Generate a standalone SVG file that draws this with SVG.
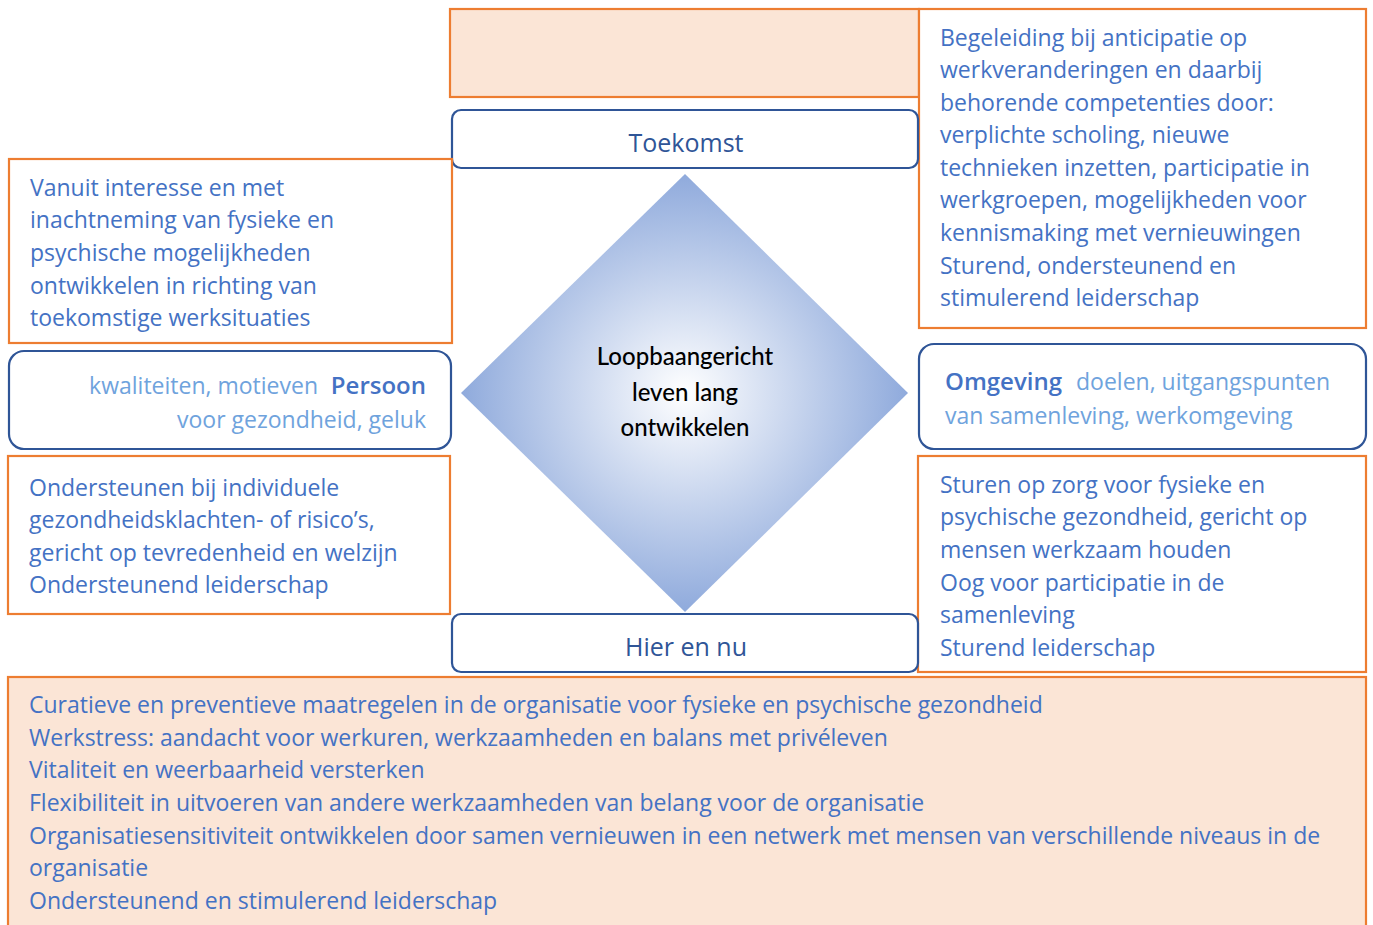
<svg xmlns="http://www.w3.org/2000/svg" width="1373" height="925" viewBox="0 0 1373 925">
<style>
.ob{fill:#fff;stroke:#ED7D31;stroke-width:2.2}
.pb{fill:#FBE5D6;stroke:#ED7D31;stroke-width:2.2}
.rb{fill:#fff;stroke:#2F5597;stroke-width:2.2}
.t{font-family:"Open Sans","Noto Sans",sans-serif;font-size:23px;fill:#4472C4}
.lt{font-family:"Open Sans","Noto Sans",sans-serif;font-size:23px;fill:#6FA3DD}
.h{font-family:"Open Sans","Noto Sans",sans-serif;font-size:25px;fill:#2F5597;text-anchor:middle}
.k{font-family:"Open Sans","Noto Sans",sans-serif;font-size:24px;fill:#4472C4;font-weight:600}
.d{font-family:Lato,"Open Sans",sans-serif;font-size:24px;fill:#000;text-anchor:middle;font-weight:500}
</style>
<defs>
<radialGradient id="dg" cx="0.5" cy="0.5" r="0.5">
<stop offset="0" stop-color="#FFFFFF"/>
<stop offset="1" stop-color="#8FAADC"/>
</radialGradient>
</defs>
<g id="bottom-box">
<rect class="pb" x="8" y="677" width="1358" height="260"/>
<text class="t" x="29"><tspan x="29" y="713">Curatieve en preventieve maatregelen in de organisatie voor fysieke en psychische gezondheid</tspan><tspan x="29" y="746">Werkstress: aandacht voor werkuren, werkzaamheden en balans met privéleven</tspan><tspan x="29" y="778">Vitaliteit en weerbaarheid versterken</tspan><tspan x="29" y="811">Flexibiliteit in uitvoeren van andere werkzaamheden van belang voor de organisatie</tspan><tspan x="29" y="844">Organisatiesensitiviteit ontwikkelen door samen vernieuwen in een netwerk met mensen van verschillende niveaus in de</tspan><tspan x="29" y="876">organisatie</tspan><tspan x="29" y="909">Ondersteunend en stimulerend leiderschap</tspan></text>
</g>
<g id="top-box">
<rect class="pb" x="450" y="9" width="469" height="88"/>
</g>
<g id="top-right-box">
<rect class="ob" x="919" y="9" width="447" height="319"/>
<text class="t"><tspan x="940" y="46">Begeleiding bij anticipatie op</tspan><tspan x="940" y="78">werkveranderingen en daarbij</tspan><tspan x="940" y="111">behorende competenties door:</tspan><tspan x="940" y="143">verplichte scholing, nieuwe</tspan><tspan x="940" y="176">technieken inzetten, participatie in</tspan><tspan x="940" y="208">werkgroepen, mogelijkheden voor</tspan><tspan x="940" y="241">kennismaking met vernieuwingen</tspan><tspan x="940" y="274">Sturend, ondersteunend en</tspan><tspan x="940" y="306">stimulerend leiderschap</tspan></text>
</g>
<g id="toekomst">
<rect class="rb" x="452" y="110" width="466" height="58" rx="9"/>
<text class="h" x="686" y="152">Toekomst</text>
</g>
<g id="left-top-box">
<rect class="ob" x="9" y="159" width="443" height="184"/>
<text class="t"><tspan x="30" y="196">Vanuit interesse en met</tspan><tspan x="30" y="228">inachtneming van fysieke en</tspan><tspan x="30" y="261">psychische mogelijkheden</tspan><tspan x="30" y="294">ontwikkelen in richting van</tspan><tspan x="30" y="326">toekomstige werksituaties</tspan></text>
</g>
<g id="persoon">
<rect class="rb" x="9" y="351" width="442" height="98" rx="15"/>
<text class="lt" x="318" y="394" text-anchor="end">kwaliteiten, motieven</text>
<text class="k" x="426" y="394" text-anchor="end">Persoon</text>
<text class="lt" x="426" y="428" text-anchor="end">voor gezondheid, geluk</text>
</g>
<g id="left-bottom-box">
<rect class="ob" x="8" y="456" width="442" height="158"/>
<text class="t"><tspan x="29" y="496">Ondersteunen bij individuele</tspan><tspan x="29" y="528">gezondheidsklachten- of risico’s,</tspan><tspan x="29" y="561">gericht op tevredenheid en welzijn</tspan><tspan x="29" y="593">Ondersteunend leiderschap</tspan></text>
</g>
<g id="omgeving">
<rect class="rb" x="919" y="344" width="447" height="105" rx="15"/>
<text class="k" x="945" y="390">Omgeving</text>
<text class="lt" x="1076" y="390">doelen, uitgangspunten</text>
<text class="lt" x="945" y="424">van samenleving, werkomgeving</text>
</g>
<g id="right-bottom-box">
<rect class="ob" x="918" y="456" width="448" height="216"/>
<text class="t"><tspan x="940" y="493">Sturen op zorg voor fysieke en</tspan><tspan x="940" y="525">psychische gezondheid, gericht op</tspan><tspan x="940" y="558">mensen werkzaam houden</tspan><tspan x="940" y="591">Oog voor participatie in de</tspan><tspan x="940" y="623">samenleving</tspan><tspan x="940" y="656">Sturend leiderschap</tspan></text>
</g>
<g id="hier-en-nu">
<rect class="rb" x="452" y="614" width="466" height="58" rx="9"/>
<text class="h" x="686" y="656">Hier en nu</text>
</g>
<g id="diamond">
<polygon points="685,174 908,393 685,612 461,393" fill="url(#dg)"/>
<text class="d"><tspan x="685" y="365">Loopbaangericht</tspan><tspan x="685" y="401">leven lang</tspan><tspan x="685" y="436">ontwikkelen</tspan></text>
</g>
<g id="connectors"/>
</svg>
